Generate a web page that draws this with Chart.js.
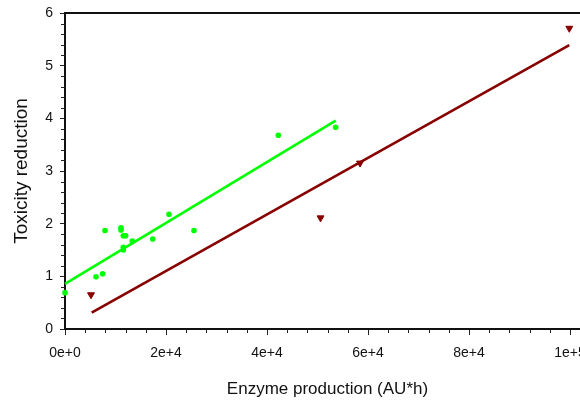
<!DOCTYPE html>
<html>
<head>
<meta charset="utf-8">
<script src="https://cdn.jsdelivr.net/npm/chart.js@4.4.1/dist/chart.umd.min.js"></script>
<style>
    html, body { margin: 0; padding: 0; background: #fff; overflow: hidden; }
    #wrap { width: 580px; height: 401px; overflow: hidden; }
    canvas { display: block; }
</style>
</head>
<body>
<div id="wrap"><canvas id="myChart" width="590" height="401"></canvas></div>
<script>
const greenX = [0, 6140, 7460, 7920, 11090, 11090, 11550, 12020, 11550, 11550, 13330, 17370, 20590, 25540, 42240, 53600];
const greenY = [0.69, 0.99, 1.05, 1.87, 1.92, 1.88, 1.77, 1.77, 1.55, 1.50, 1.67, 1.71, 2.18, 1.87, 3.68, 3.83];

const redX = [5150, 50600, 58420, 99860];
const redY = [0.65, 2.11, 3.15, 5.71];

// regression lines, end points
const greenFitX = [0, 53600];
const greenFitY = [0.855, 3.955];
const redFitX = [5280, 99860];
const redFitY = [0.31, 5.39];

const xTickValues = [0, 20000, 40000, 60000, 80000, 100000];
const xTickLabels = ['0e+0', '2e+4', '4e+4', '6e+4', '8e+4', '1e+5'];
const yTickValues = [0, 1, 2, 3, 4, 5, 6];
const yTickLabels = ['0', '1', '2', '3', '4', '5', '6'];

const fontFamily = "'Liberation Sans', Arial, sans-serif";
const green = '#00ff00';
const darkRed = '#880000';

function toPoints(xs, ys) {
    return xs.map((x, i) => ({ x: x, y: ys[i] }));
}

// minor ticks + top frame line
const minorTicks = {
    id: 'minorTicks',
    afterDraw(chart) {
        const ctx = chart.ctx;
        const xs = chart.scales.x;
        const ys = chart.scales.y;
        const area = chart.chartArea;
        ctx.save();
        ctx.strokeStyle = '#222';
        ctx.lineWidth = 1;
        ctx.beginPath();
        for (let i = 1; i < 30; i++) {
            if (i % 5 === 0) continue;
            const py = Math.round(ys.getPixelForValue(i * 0.2)) + 0.5;
            ctx.moveTo(area.left - 4, py);
            ctx.lineTo(area.left, py);
        }
        for (let i = 1; i * 4000 <= xs.max; i++) {
            if (i % 5 === 0) continue;
            const px = Math.round(xs.getPixelForValue(i * 4000)) + 0.5;
            ctx.moveTo(px, area.bottom);
            ctx.lineTo(px, area.bottom + 4);
        }
        ctx.stroke();
        ctx.strokeStyle = '#111';
        ctx.lineWidth = 2;
        ctx.beginPath();
        ctx.moveTo(area.left - 1, area.top);
        ctx.lineTo(area.right, area.top);
        ctx.stroke();
        ctx.restore();
    }
};

const chartElement = document.querySelector('#myChart');

new Chart(chartElement, {
    type: 'scatter',
    data: {
        datasets: [
            {
                type: 'line',
                data: toPoints(greenFitX, greenFitY),
                borderColor: green,
                borderWidth: 2.6,
                pointRadius: 0,
                clip: false,
            },
            {
                type: 'line',
                data: toPoints(redFitX, redFitY),
                borderColor: darkRed,
                borderWidth: 2.6,
                pointRadius: 0,
                clip: false,
            },
            {
                data: toPoints(greenX, greenY),
                backgroundColor: green,
                borderWidth: 0,
                pointRadius: 2.8,
                clip: false,
            },
            {
                data: toPoints(redX, redY),
                backgroundColor: darkRed,
                borderColor: darkRed,
                borderWidth: 1,
                pointStyle: 'triangle',
                rotation: 180,
                pointRadius: 4,
                clip: false,
            },
        ]
    },
    options: {
        responsive: false,
        animation: false,
        layout: { autoPadding: false, padding: { top: 13, left: 0, right: 0, bottom: 0 } },
        plugins: {
            legend: { display: false },
            tooltip: { enabled: false },
        },
        scales: {
            x: {
                type: 'linear',
                min: 0,
                max: 103960,
                afterBuildTicks: s => { s.ticks = xTickValues.map(v => ({ value: v })); },
                afterFit: s => { s.height = 72; s.paddingLeft = 0; s.paddingRight = 0; },
                grid: { drawOnChartArea: false, drawTicks: true, tickLength: 6, tickColor: '#222', tickWidth: 1 },
                border: { color: '#111', width: 2 },
                ticks: {
                    padding: 10,
                    color: '#111',
                    autoSkip: false,
                    maxRotation: 0,
                    font: { family: fontFamily, size: 14 },
                    callback: (v, i) => xTickLabels[i],
                },
                title: {
                    display: true,
                    text: 'Enzyme production (AU*h)',
                    color: '#111',
                    font: { family: fontFamily, size: 17 },
                    padding: { top: 0, bottom: 1 },
                },
            },
            y: {
                type: 'linear',
                min: 0,
                max: 6,
                afterBuildTicks: s => { s.ticks = yTickValues.map(v => ({ value: v })); },
                afterFit: s => { s.width = 65; s.paddingTop = 0; s.paddingBottom = 0; },
                grid: { drawOnChartArea: false, drawTicks: true, tickLength: 5, tickColor: '#222', tickWidth: 1 },
                border: { color: '#111', width: 2 },
                ticks: {
                    padding: 7,
                    color: '#111',
                    font: { family: fontFamily, size: 14 },
                    callback: (v, i) => yTickLabels[i],
                },
                title: {
                    display: true,
                    text: 'Toxicity reduction',
                    color: '#111',
                    font: { family: fontFamily, size: 19 },
                    padding: { top: 10, bottom: 0 },
                },
            },
        }
    },
    plugins: [minorTicks]
});
</script>
</body>
</html>
